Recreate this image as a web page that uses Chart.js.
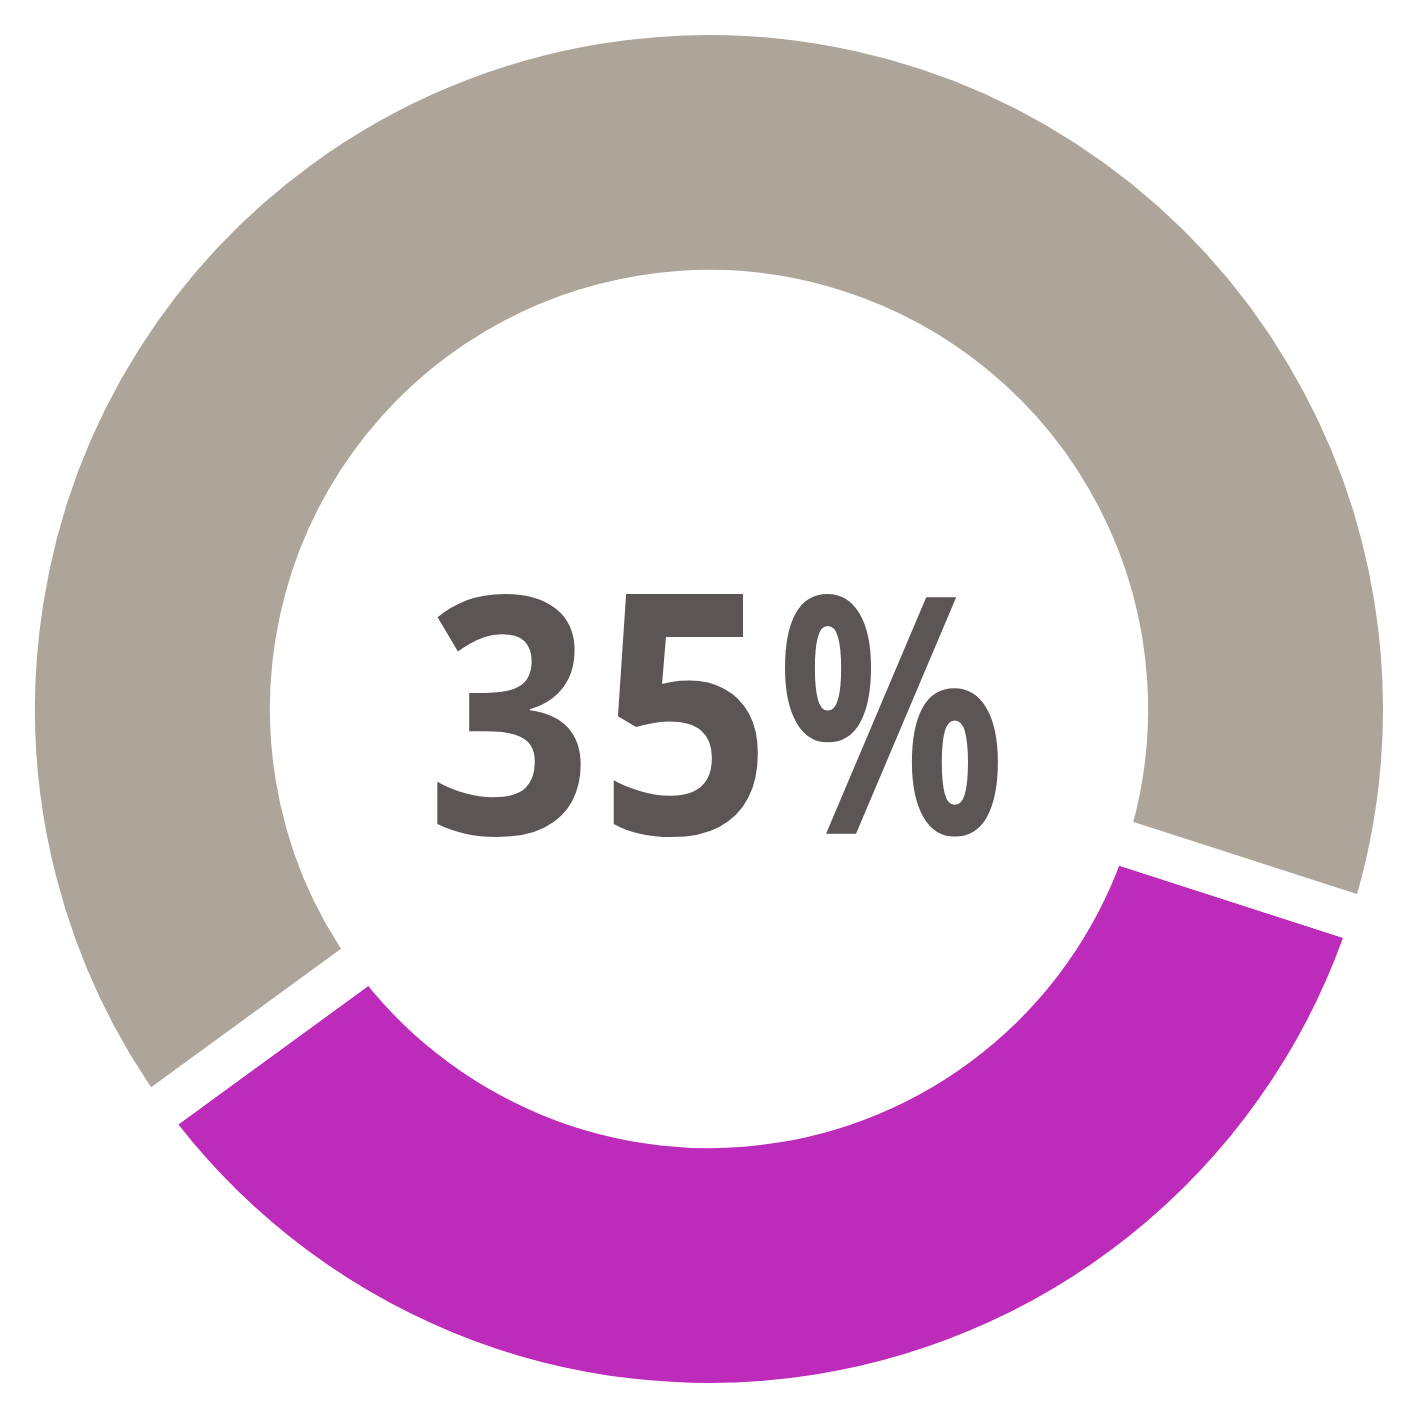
<!DOCTYPE html>
<html>
<head>
<meta charset="utf-8">
<script src="https://cdn.jsdelivr.net/npm/chart.js@4/dist/chart.umd.min.js"></script>
<style>
  html, body { margin: 0; padding: 0; background: #fff; overflow: hidden; }
  #wrap { position: absolute; left: -11.5px; top: -11.5px; width: 1440px; height: 1440px; }
</style>
</head>
<body>
<div id="wrap"><canvas id="myGraph"></canvas></div>
<script>
// Data
var labels = ['Share', 'Rest'];
var values = [35, 65];
var colours = ['#bd2bbb', '#ada59a'];
var centreText = '35%';

// Glyph boxes of the centre text, relative to the chart centre (left, right)
var glyphBoxes = [[-274, -126], [-98, 50], [76, 291]];
var glyphTop = -117;
var glyphBottom = 128;

// Draw the big number in the middle, one glyph at a time
var centreLabel = {
    id: 'centreLabel',
    afterDraw: (chart) => {
        var ctx = chart.ctx;
        var arc = chart.getDatasetMeta(0).data[0];
        ctx.save();
        ctx.font = 'bold 100px "Noto Sans"';
        ctx.fillStyle = '#5b5555';
        ctx.textBaseline = 'alphabetic';
        ctx.textAlign = 'left';
        centreText.split('').forEach((ch, i) => {
            var m = ctx.measureText(ch);
            var w = m.actualBoundingBoxLeft + m.actualBoundingBoxRight;
            var h = m.actualBoundingBoxAscent + m.actualBoundingBoxDescent;
            var box = glyphBoxes[i];
            var sx = (box[1] - box[0]) / w;
            var sy = (glyphBottom - glyphTop) / h;
            ctx.save();
            ctx.translate(arc.x + box[0], arc.y + glyphTop);
            ctx.scale(sx, sy);
            ctx.fillText(ch, m.actualBoundingBoxLeft, m.actualBoundingBoxAscent);
            ctx.restore();
        });
        ctx.restore();
    }
};

// Create chart
var ctx = document.getElementById('myGraph').getContext('2d');
var chart = new Chart(ctx, {
    type: 'doughnut',
    data: {
        labels: labels,
        datasets: [{
            data: values,
            backgroundColor: colours,
            borderColor: '#ffffff',
            borderWidth: 46,
            hoverOffset: 0
        }]
    },
    options: {
        responsive: true,
        maintainAspectRatio: false,
        animation: false,
        rotation: 107.9,
        cutout: '59.7%',
        layout: { padding: 0 },
        plugins: {
            legend: { display: false },
            tooltip: { enabled: false }
        }
    },
    plugins: [centreLabel]
});
</script>
</body>
</html>
